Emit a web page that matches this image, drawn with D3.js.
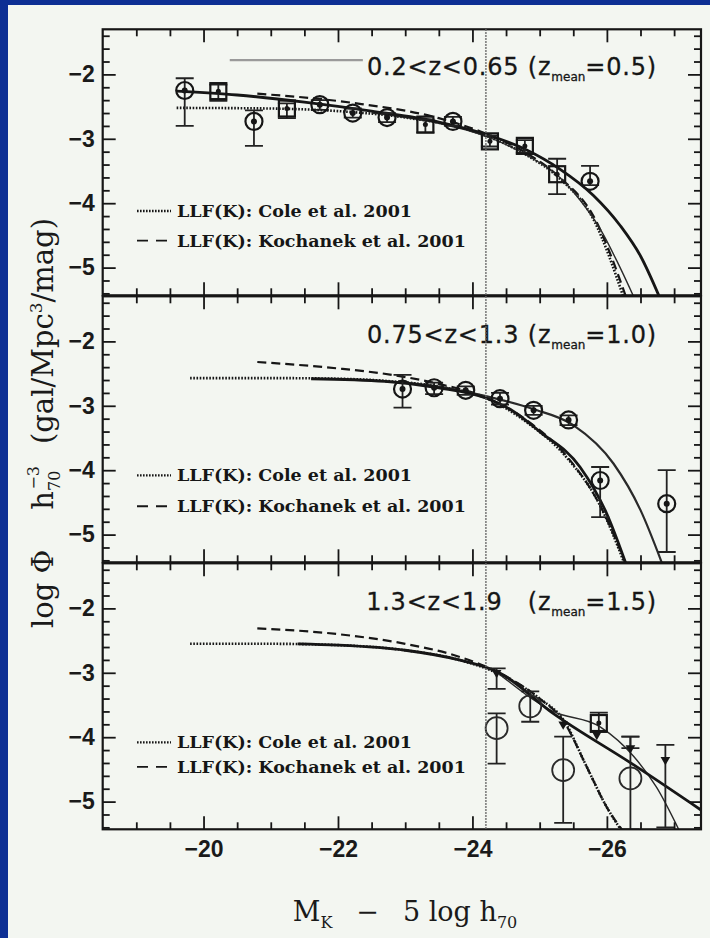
<!DOCTYPE html>
<html>
<head>
<meta charset="utf-8">
<script src="https://cdn.jsdelivr.net/npm/d3@7/dist/d3.min.js"></script>
<style>
  html, body { margin: 0; padding: 0; background: #0d2f94; }
  svg { display: block; }
</style>
</head>
<body>
<svg id="chart" width="710" height="938"></svg>
<script>
// ---- axis ticks ----
const xMajorTicks = [-20, -22, -24, -26];
const xMinorTicks = [-19, -19.5, -20.5, -21, -21.5, -22.5, -23, -23.5, -24.5, -25, -25.5, -26.5, -27];
const yMajorTicks = [-2, -3, -4, -5];
const yMinorTicks = [-1.4, -1.6, -1.8, -2.2, -2.4, -2.6, -2.8, -3.2, -3.4, -3.6, -3.8,
                     -4.2, -4.4, -4.6, -4.8, -5.2, -5.4];

// ---- redshift bins ----
const binRanges = ["0.2<z<0.65 ", "0.75<z<1.3 ", "1.3<z<1.9   "];
const binMeans = ["=0.5)", "=1.0)", "=1.5)"];
const completenessLimit = -24.2;

// ---- legend ----
const legendNames = ["LLF(K): Cole et al. 2001", "LLF(K): Kochanek et al. 2001"];

// ---- panel 1 (0.2<z<0.65) : M, log phi, upper, lower ----
const p1Circles = [
  [-19.72, -2.25, -2.06, -2.80], [-20.75, -2.73, -2.56, -3.11], [-21.73, -2.47, -2.40, -2.55],
  [-22.22, -2.60, -2.53, -2.67], [-22.73, -2.67, -2.60, -2.74], [-23.71, -2.73, -2.66, -2.80],
  [-25.75, -3.66, -3.42, -3.72]
];
const p1Squares = [
  [-20.22, -2.26, -2.16, -2.41], [-21.24, -2.53, -2.45, -2.68], [-23.30, -2.78, -2.70, -2.90],
  [-24.26, -3.04, -2.95, -3.12], [-24.78, -3.11, -3.02, -3.22], [-25.26, -3.55, -3.31, -3.86]
];
const p1FitThick = [[-19.6, -2.26], [-20.5, -2.32], [-21.5, -2.43], [-22.5, -2.57], [-23.5, -2.74],
  [-24.2, -2.93], [-24.8, -3.17], [-25.3, -3.47], [-25.8, -3.88], [-26.2, -4.35], [-26.5, -4.82], [-26.8, -5.5]];
const p1FitThin = [[-22.5, -2.60], [-23.5, -2.76], [-24.2, -2.96], [-24.8, -3.25], [-25.3, -3.60],
  [-25.6, -3.95], [-25.9, -4.40], [-26.15, -4.90], [-26.42, -5.5]];
const p1Cole = [[-19.6, -2.52], [-21.0, -2.53], [-22.0, -2.57], [-23.0, -2.67], [-24.0, -2.88],
  [-24.8, -3.25], [-25.3, -3.62], [-25.8, -4.25], [-26.26, -5.5]];
const p1Kochanek = [[-20.8, -2.30], [-22.2, -2.44], [-23.5, -2.68], [-24.2, -2.92], [-24.8, -3.22],
  [-25.3, -3.60], [-25.8, -4.20], [-26.3, -5.5]];
const p1Segment = [[-20.39, -1.78], [-22.37, -1.78]];

// ---- panel 2 (0.75<z<1.3) ----
const p2Circles = [
  [-22.96, -2.74, -2.52, -3.03], [-23.43, -2.72, -2.64, -2.82], [-23.90, -2.76, -2.70, -2.83],
  [-24.41, -2.89, -2.80, -2.98], [-24.91, -3.07, -3.00, -3.14], [-25.43, -3.22, -3.15, -3.30],
  [-25.90, -4.16, -3.95, -4.73], [-26.89, -4.52, -4.00, -5.27]
];
const p2FitThick = [[-21.6, -2.58], [-22.7, -2.62], [-23.5, -2.72], [-24.2, -2.88], [-24.6, -3.08],
  [-25.0, -3.40], [-25.6, -3.95], [-26.0, -4.68], [-26.3, -5.5]];
const p2FitThin = [[-22.7, -2.62], [-23.5, -2.70], [-24.2, -2.85], [-24.9, -3.05], [-25.5, -3.30],
  [-26.1, -3.90], [-26.5, -4.62], [-26.84, -5.5]];
const p2Cole = [[-19.8, -2.57], [-21.0, -2.57], [-22.0, -2.58], [-22.8, -2.62], [-23.5, -2.70],
  [-24.2, -2.88], [-24.8, -3.25], [-25.4, -3.80], [-25.9, -4.55], [-26.28, -5.5]];
const p2Kochanek = [[-20.8, -2.32], [-22.0, -2.42], [-22.8, -2.52], [-23.5, -2.66], [-24.2, -2.87],
  [-24.8, -3.22], [-25.4, -3.78], [-25.9, -4.55], [-26.3, -5.5]];

// ---- panel 3 (1.3<z<1.9) ----
const p3Open = [
  [-24.36, -3.86, -3.63, -4.41], [-24.86, -3.52, -3.29, -3.76], [-25.35, -4.51, -3.99, -5.33],
  [-26.35, -4.64, -3.99, -5.43]
];
const p3Squares = [[-25.88, -3.78, -3.62, -3.92]];
const p3Filled = [
  [-24.36, -3.00, -2.93, -3.25], [-25.35, -3.80, -3.80, -3.80], [-25.85, -3.96, -3.96, -3.96],
  [-26.35, -4.17, -3.99, -4.17], [-26.87, -4.35, -4.12, -5.40]
];
const p3FitThick = [[-21.4, -2.55], [-22.0, -2.57], [-23.0, -2.65], [-23.8, -2.80], [-24.4, -3.00],
  [-25.2, -3.63], [-26.4, -4.43], [-27.4, -5.13]];
const p3FitThin = [[-24.4, -3.02], [-25.2, -3.60], [-25.9, -3.84], [-26.4, -4.30], [-26.74, -4.78], [-27.1, -5.5]];
const p3Cole = [[-19.8, -2.55], [-21.0, -2.55], [-22.0, -2.57], [-23.0, -2.65], [-23.8, -2.80],
  [-24.4, -3.02], [-25.0, -3.40], [-25.36, -3.74], [-25.7, -4.46], [-26.0, -5.09], [-26.25, -5.5]];
const p3Kochanek = [[-20.8, -2.31], [-22.0, -2.40], [-23.0, -2.55], [-23.8, -2.75], [-24.4, -3.00],
  [-25.0, -3.40], [-25.36, -3.76], [-25.7, -4.46], [-26.0, -5.09], [-26.27, -5.5]];

const panels = [
  { circles: p1Circles, squares: p1Squares, open: [], filled: [], thick: p1FitThick, thin: p1FitThin,
    thinW: 1.4, cole: p1Cole, koch: p1Kochanek, legend: [-4.12, -4.58] },
  { circles: p2Circles, squares: [], open: [], filled: [], thick: p2FitThick, thin: p2FitThin,
    thinW: 2.2, cole: p2Cole, koch: p2Kochanek, legend: [-4.08, -4.56] },
  { circles: [], squares: p3Squares, open: p3Open, filled: p3Filled, thick: p3FitThick, thin: p3FitThin,
    thinW: 1.4, cole: p3Cole, koch: p3Kochanek, legend: [-4.08, -4.46] }
];

// ---- layout ----
const svg = d3.select("#chart");
const left = 102.7, right = 701, panelH = 266;
const tops = [29.3, 296.3, 563.3];
const ink = "#161616";

svg.append("rect").attr("x", 8).attr("y", 5).attr("width", 702).attr("height", 933).attr("fill", "#f3f6f1");

const x = d3.scaleLinear().domain([-18.5, -27.4]).range([left, right]);
const yDomain = [-5.43, -1.3];

const line = d3.line().x(d => x(d[0])).curve(d3.curveMonotoneX);

const defs = svg.append("defs");

panels.forEach((p, i) => {
  const top = tops[i], bottom = top + panelH;
  const y = d3.scaleLinear().domain(yDomain).range([bottom, top]);
  line.y(d => y(d[1]));

  defs.append("clipPath").attr("id", "clip" + i)
    .append("rect").attr("x", left).attr("y", top).attr("width", right - left).attr("height", panelH);

  const g = svg.append("g");
  const plot = g.append("g").attr("clip-path", `url(#clip${i})`);

  // model curves
  plot.append("path").datum(p.cole).attr("d", line).attr("fill", "none")
    .attr("stroke", ink).attr("stroke-width", 2.6).attr("stroke-dasharray", "1.6,1.6");
  plot.append("path").datum(p.koch).attr("d", line).attr("fill", "none")
    .attr("stroke", ink).attr("stroke-width", 2.2).attr("stroke-dasharray", "9,5");
  plot.append("path").datum(p.thin).attr("d", line).attr("fill", "none")
    .attr("stroke", "#2a2a2a").attr("stroke-width", p.thinW);
  plot.append("path").datum(p.thick).attr("d", line).attr("fill", "none")
    .attr("stroke", ink).attr("stroke-width", 2.8);

  if (i === 0) {
    plot.append("path").datum(p1Segment).attr("d", d3.line().x(d => x(d[0])).y(d => y(d[1])))
      .attr("stroke", "#9a9a9a").attr("stroke-width", 2.2);
  }

  // error bars
  const allPts = [...p.circles, ...p.squares, ...p.open, ...p.filled].filter(d => d[2] !== d[3]);
  const eb = plot.selectAll(null).data(allPts).enter().append("g").attr("stroke", "#222").attr("stroke-width", 1.8);
  eb.append("line").attr("x1", d => x(d[0])).attr("x2", d => x(d[0]))
    .attr("y1", d => y(d[2])).attr("y2", d => y(d[3]));
  eb.append("line").attr("x1", d => x(d[0]) - 9).attr("x2", d => x(d[0]) + 9)
    .attr("y1", d => y(d[2])).attr("y2", d => y(d[2]));
  eb.append("line").attr("x1", d => x(d[0]) - 9).attr("x2", d => x(d[0]) + 9)
    .attr("y1", d => y(d[3])).attr("y2", d => y(d[3]));

  // circle-with-dot markers
  const c = plot.selectAll(null).data(p.circles).enter().append("g");
  c.append("circle").attr("cx", d => x(d[0])).attr("cy", d => y(d[1])).attr("r", 8.5)
    .attr("fill", "none").attr("stroke", ink).attr("stroke-width", 2.2);
  c.append("circle").attr("cx", d => x(d[0])).attr("cy", d => y(d[1])).attr("r", 3).attr("fill", ink);

  // square markers
  const s = plot.selectAll(null).data(p.squares).enter().append("g");
  s.append("rect").attr("x", d => x(d[0]) - 8).attr("y", d => y(d[1]) - 8).attr("width", 16).attr("height", 16)
    .attr("fill", "none").attr("stroke", ink).attr("stroke-width", 2.2);
  s.append("circle").attr("cx", d => x(d[0])).attr("cy", d => y(d[1])).attr("r", 2.5).attr("fill", ink);

  // large open circles
  plot.selectAll(null).data(p.open).enter().append("circle")
    .attr("cx", d => x(d[0])).attr("cy", d => y(d[1])).attr("r", 11)
    .attr("fill", "none").attr("stroke", "#2a2a2a").attr("stroke-width", 1.8);

  // filled triangles
  plot.selectAll(null).data(p.filled).enter().append("path")
    .attr("d", d3.symbol().type(d3.symbolTriangle).size(40))
    .attr("transform", d => `translate(${x(d[0])},${y(d[1])}) rotate(180)`)
    .attr("fill", ink);

  // legend
  const ly = p.legend;
  [0, 1].forEach(k => {
    const yy = y(ly[k]);
    g.append("line").attr("x1", 137).attr("x2", 171).attr("y1", yy).attr("y2", yy)
      .attr("stroke", ink).attr("stroke-width", k === 0 ? 2.4 : 1.8)
      .attr("stroke-dasharray", k === 0 ? "1.6,1.4" : "11,8");
    g.append("text").attr("x", 177).attr("y", yy + 6).text(legendNames[k])
      .attr("font-family", "DejaVu Serif").attr("font-weight", "bold").attr("font-size", 17.5)
      .attr("fill", ink);
  });

  // redshift label
  const lab = g.append("text").attr("x", 657).attr("y", top + (i === 0 ? 46 : 47))
    .attr("text-anchor", "end").attr("font-family", "DejaVu Sans").attr("font-size", 24)
    .attr("letter-spacing", 0.8).attr("fill", ink).attr("stroke", ink).attr("stroke-width", 0.3)
    .attr("xml:space", "preserve").style("white-space", "pre");
  lab.append("tspan").text(binRanges[i] + "(z");
  lab.append("tspan").attr("font-size", 12).attr("dy", 6).attr("letter-spacing", 0).text("mean");
  lab.append("tspan").attr("dy", -6).text(binMeans[i]);

  // axes with inward ticks
  const yL = d3.axisLeft(y).tickValues(yMajorTicks).tickSize(-13).tickPadding(8)
    .tickFormat(d => "\u2212" + Math.abs(d));
  const yLm = d3.axisLeft(y).tickValues(yMinorTicks).tickSize(-7).tickFormat("");
  const yR = d3.axisRight(y).tickValues(yMajorTicks).tickSize(-13).tickFormat("");
  const yRm = d3.axisRight(y).tickValues(yMinorTicks).tickSize(-7).tickFormat("");
  const xT = d3.axisTop(x).tickValues(xMajorTicks).tickSize(-13).tickFormat("");
  const xTm = d3.axisTop(x).tickValues(xMinorTicks).tickSize(-7).tickFormat("");
  const xB = d3.axisBottom(x).tickValues(xMajorTicks).tickSize(-13).tickPadding(11)
    .tickFormat(d => i === 2 ? "\u2212" + Math.abs(d) : "");
  const xBm = d3.axisBottom(x).tickValues(xMinorTicks).tickSize(-7).tickFormat("");

  const ax = [
    [yL, `translate(${left},0)`], [yLm, `translate(${left},0)`],
    [yR, `translate(${right},0)`], [yRm, `translate(${right},0)`],
    [xT, `translate(0,${top})`], [xTm, `translate(0,${top})`],
    [xB, `translate(0,${bottom})`], [xBm, `translate(0,${bottom})`]
  ];
  ax.forEach(([a, t]) => {
    const ag = g.append("g").attr("transform", t).call(a);
    ag.select(".domain").remove();
    ag.selectAll(".tick line").attr("stroke", ink).attr("stroke-width", 1.8);
    ag.selectAll("text").attr("font-family", "Liberation Sans").attr("font-weight", "bold")
      .attr("font-size", 23).attr("fill", "#1a1a1a");
  });

  g.append("rect").attr("x", left).attr("y", top).attr("width", right - left).attr("height", panelH)
    .attr("fill", "none").attr("stroke", ink).attr("stroke-width", 2.2);
});

// completeness limit across all panels
svg.append("line").attr("x1", x(completenessLimit)).attr("x2", x(completenessLimit))
  .attr("y1", tops[0]).attr("y2", tops[2] + panelH)
  .attr("stroke", "#666").attr("stroke-width", 1.8).attr("stroke-dasharray", "1.5,1.5");

// axis titles
const xt = svg.append("text").attr("x", 405).attr("y", 921).attr("text-anchor", "middle")
  .attr("font-family", "DejaVu Serif").attr("font-size", 27).attr("fill", "#1a1a1a");
xt.append("tspan").text("M");
xt.append("tspan").attr("font-size", 16).attr("dy", 7).text("K");
xt.append("tspan").attr("dy", -7).attr("dx", 24).text("\u2212");
xt.append("tspan").attr("dx", 24).text("5 log h");
xt.append("tspan").attr("font-size", 16).attr("dy", 7).text("70");

const yt = svg.append("text").attr("transform", "translate(53,423) rotate(-90)").attr("text-anchor", "middle")
  .attr("font-family", "DejaVu Serif").attr("font-size", 29).attr("fill", "#1a1a1a");
yt.append("tspan").text("log \u03A6");
yt.append("tspan").attr("dx", 40).text("h");
yt.append("tspan").attr("font-size", 16).attr("dy", 7).text("70");
yt.append("tspan").attr("font-size", 16).attr("dx", -19).attr("dy", -21).text("\u22123");
yt.append("tspan").attr("dy", 14).attr("dx", 22).text("(gal/Mpc");
yt.append("tspan").attr("font-size", 17).attr("dy", -11).text("3");
yt.append("tspan").attr("dy", 11).text("/mag)");
</script>
</body>
</html>
